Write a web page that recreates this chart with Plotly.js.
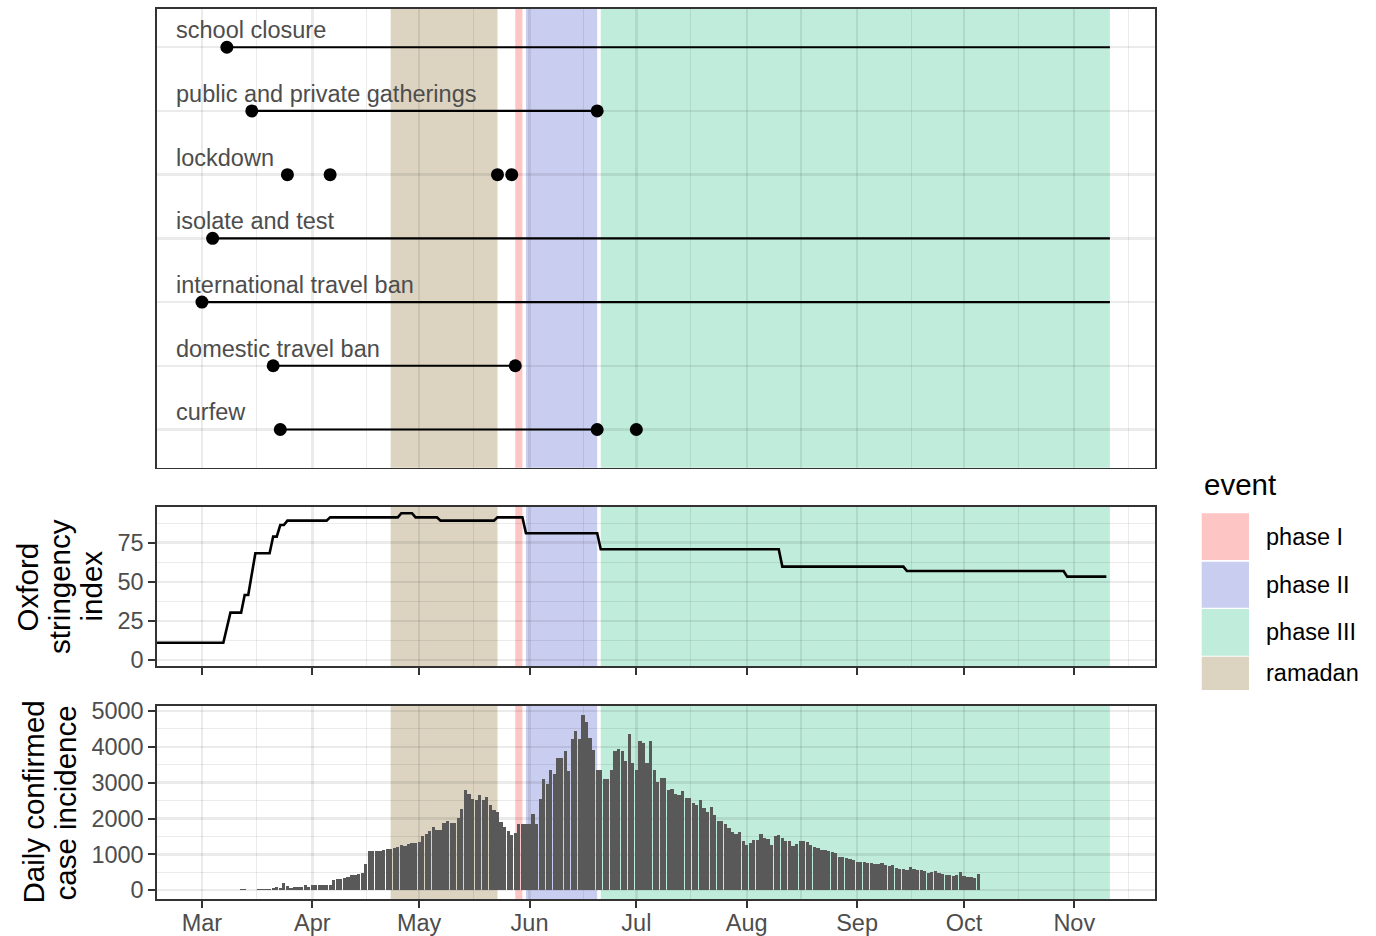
<!DOCTYPE html>
<html>
<head>
<meta charset="utf-8">
<script src="https://cdn.plot.ly/plotly-3.0.1.min.js"></script>
<style>
  html, body { margin: 0; padding: 0; background: #ffffff; }
  #chart { width: 1376px; height: 936px; }
</style>
</head>
<body>
<div id="chart"></div>
<script>
// ---- Daily confirmed cases, one array per month (first value = 1st of month) ----
const casesMar = [0, 1, 0, 1, 3, 0, 2, 4, 4, 5, 1, 24, 28, 17, 15, 15, 38, 36, 33, 45, 70, 92, 65, 194, 110, 65, 83, 92, 85, 140, 100];
const casesApr = [140, 150, 140, 150, 140, 150, 286, 323, 323, 330, 369, 434, 434, 460, 480, 738, 1107, 1080, 1098, 1107, 1125, 1140, 1150, 1190, 1200, 1264, 1236, 1282, 1328, 1328];
const casesMay = [1338, 1513, 1568, 1651, 1762, 1670, 1670, 1863, 1928, 1882, 1882, 2002, 2279, 2804, 2694, 2555, 2509, 2666, 2509, 2601, 2389, 2232, 2186, 1891, 1771, 1660, 1541, 1587, 1845, 1836, 1840];
const casesJun = [1840, 2120, 1840, 2550, 3090, 2970, 3340, 3230, 3690, 3690, 3890, 3320, 4220, 4450, 4220, 4890, 4700, 4260, 3910, 3360, 3360, 3110, 3090, 3340, 3890, 3940, 3890, 3600, 4350, 3550];
const casesJul = [3360, 4150, 4100, 3550, 4170, 3360, 3020, 3140, 3130, 2800, 2830, 2680, 2660, 2770, 2580, 2560, 2440, 2370, 2510, 2280, 2190, 2330, 2090, 1940, 1940, 1860, 1740, 1630, 1580, 1630, 1380];
const casesAug = [1260, 1330, 1390, 1400, 1560, 1450, 1420, 1260, 1500, 1540, 1470, 1380, 1375, 1220, 1280, 1360, 1375, 1340, 1260, 1200, 1170, 1125, 1110, 1080, 1060, 1030, 940, 920, 900, 870, 830];
const casesSep = [800, 800, 785, 755, 755, 740, 740, 755, 710, 680, 690, 620, 590, 590, 570, 640, 590, 570, 550, 525, 480, 500, 525, 480, 460, 435, 435, 390, 435, 500];
const casesOct = [390, 370, 360, 350, 460];
const caseMonths = ['2020-03', '2020-04', '2020-05', '2020-06', '2020-07', '2020-08', '2020-09', '2020-10'];

// ---- Oxford stringency index (vertices of the daily line) ----
const stringencyDates = ['2020-02-10', '2020-03-07', '2020-03-09', '2020-03-12', '2020-03-13', '2020-03-14', '2020-03-16',
  '2020-03-20', '2020-03-21', '2020-03-22', '2020-03-23', '2020-03-24', '2020-03-25', '2020-04-05', '2020-04-06',
  '2020-04-25', '2020-04-26', '2020-04-29', '2020-04-30', '2020-05-06', '2020-05-07', '2020-05-22', '2020-05-23',
  '2020-05-30', '2020-05-31', '2020-06-20', '2020-06-21', '2020-08-10', '2020-08-11', '2020-09-14', '2020-09-15',
  '2020-10-29', '2020-10-30', '2020-11-10'];
const stringencyValues = [11.1, 11.1, 30.3, 30.3, 41.6, 41.6, 68.2, 68.2, 78.9, 78.9, 86.3, 86.3, 89.1, 89.1, 91.2,
  91.2, 93.8, 93.8, 91.2, 91.2, 89.1, 89.1, 91.2, 91.2, 81.0, 81.0, 70.8, 70.8, 59.7, 59.7, 56.9, 56.9, 53.3, 53.3];

// ---- Shaded periods ----
const eventNames = ['phase I', 'phase II', 'phase III', 'ramadan'];
const eventStart = ['2020-05-28', '2020-05-31', '2020-06-21', '2020-04-23'];
const eventEnd = ['2020-05-30', '2020-06-20', '2020-11-11', '2020-05-23'];
const eventColors = ['#FEC5C5', '#C9CDF0', '#C0ECDB', '#DCD4C0'];

// ---- Measures (top to bottom) ----
const measures = ['school closure', 'public and private gatherings', 'lockdown', 'isolate and test',
  'international travel ban', 'domestic travel ban', 'curfew'];
const spanMeasure = ['school closure', 'public and private gatherings', 'isolate and test',
  'international travel ban', 'domestic travel ban', 'curfew'];
const spanStart = ['2020-03-08', '2020-03-15', '2020-03-04', '2020-03-01', '2020-03-21', '2020-03-23'];
const spanEnd = ['2020-11-11', '2020-06-20', '2020-11-11', '2020-11-11', '2020-05-28', '2020-06-20'];
const pointMeasure = ['school closure', 'public and private gatherings', 'public and private gatherings',
  'lockdown', 'lockdown', 'lockdown', 'lockdown', 'isolate and test', 'international travel ban',
  'domestic travel ban', 'domestic travel ban', 'curfew', 'curfew', 'curfew'];
const pointDate = ['2020-03-08', '2020-03-15', '2020-06-20', '2020-03-25', '2020-04-06', '2020-05-23', '2020-05-27',
  '2020-03-04', '2020-03-01', '2020-03-21', '2020-05-28', '2020-03-23', '2020-06-20', '2020-07-01'];
const labelDate = '2020-02-22 05:00';

// ---- build the daily case series ----
const caseMonthArrays = [casesMar, casesApr, casesMay, casesJun, casesJul, casesAug, casesSep, casesOct];
const caseX = [], caseY = [];
caseMonthArrays.forEach((arr, m) => {
  arr.forEach((v, i) => {
    const day = String(i + 1).padStart(2, '0');
    caseX.push(caseMonths[m] + '-' + day);
    caseY.push(v);
  });
});

const FONT = '"Liberation Sans", Arial, Helvetica, sans-serif';
// translucent grid so it reads light grey on white and slightly darker on the shaded periods
const GRID = 'rgba(0,0,0,0.08)';
const DARK = '#333333';
const xRange = ['2020-02-17 09:00', '2020-11-23 16:00'];

function xAxis(showLabels, showTicks, anchor) {
  return {
    type: 'date', range: xRange, anchor: anchor, domain: [0, 1],
    dtick: 'M1', tick0: '2020-03-01', tickformat: '%b',
    showgrid: true, gridcolor: GRID, gridwidth: 2.4,
    minor: { dtick: 'M1', tick0: '2020-02-16 06:00', showgrid: true, gridcolor: GRID, gridwidth: 1.2 },
    showline: true, mirror: true, linecolor: DARK, linewidth: 1.6,
    ticks: showTicks ? 'outside' : '', ticklen: 7, tickwidth: 2, tickcolor: DARK,
    ticklabelstandoff: -5,
    showticklabels: showLabels, tickfont: { family: FONT, size: 23.5, color: '#4D4D4D' },
    zeroline: false, fixedrange: true
  };
}

function yLinear(domain, range, dtick, minorDtick, anchor) {
  return {
    domain: domain, range: range, anchor: anchor, dtick: dtick, tick0: 0, tickformat: 'd',
    showgrid: true, gridcolor: GRID, gridwidth: 2.4,
    minor: { dtick: minorDtick, tick0: 0, showgrid: true, gridcolor: GRID, gridwidth: 1.2 },
    showline: true, mirror: true, linecolor: DARK, linewidth: 1.6,
    ticks: 'outside', ticklen: 7, tickwidth: 2, tickcolor: DARK,
    tickfont: { family: FONT, size: 23.5, color: '#4D4D4D' },
    zeroline: false, fixedrange: true
  };
}

// ---- traces ----
const segX = [], segY = [];
spanMeasure.forEach((m, i) => {
  segX.push(spanStart[i], spanEnd[i], null);
  segY.push(m, m, null);
});

const traces = [
  { type: 'scatter', mode: 'lines', x: segX, y: segY, xaxis: 'x', yaxis: 'y',
    line: { color: '#000000', width: 2.2 }, hoverinfo: 'skip', showlegend: false },
  { type: 'scatter', mode: 'markers', x: pointDate, y: pointMeasure, xaxis: 'x', yaxis: 'y',
    marker: { color: '#000000', size: 13 }, cliponaxis: false, hoverinfo: 'skip', showlegend: false },
  { type: 'scatter', mode: 'lines', x: stringencyDates, y: stringencyValues, xaxis: 'x2', yaxis: 'y2',
    line: { color: '#000000', width: 2.6 }, hoverinfo: 'skip', showlegend: false },
  { type: 'bar', x: caseX, y: caseY, xaxis: 'x3', yaxis: 'y3', width: 0.9 * 86400000,
    marker: { color: '#595959', line: { width: 0 } }, hoverinfo: 'skip', showlegend: false }
];

// ---- shaded periods in every panel (under the grid) ----
const shapes = [];
[['x', 'y'], ['x2', 'y2'], ['x3', 'y3']].forEach(([xr, yr]) => {
  eventNames.forEach((name, i) => {
    shapes.push({ type: 'rect', xref: xr, yref: yr + ' domain', x0: eventStart[i], x1: eventEnd[i], y0: 0, y1: 1,
      fillcolor: eventColors[i], line: { width: 0 }, layer: 'below' });
  });
});

// ---- legend (event) ----
const keyX0 = 1.0468, keyX1 = 1.0942;
const keyY = [[0.3809, 0.4334], [0.3273, 0.3790], [0.2734, 0.3258], [0.2348, 0.2722]];
const annotations = [];
eventNames.forEach((name, i) => {
  shapes.push({ type: 'rect', xref: 'paper', yref: 'paper', x0: keyX0, x1: keyX1,
    y0: keyY[i][0], y1: keyY[i][1], fillcolor: eventColors[i], line: { width: 0 } });
  annotations.push({ xref: 'paper', yref: 'paper', x: 1.1092, y: (keyY[i][0] + keyY[i][1]) / 2,
    xanchor: 'left', yanchor: 'middle', showarrow: false, text: name,
    font: { family: FONT, size: 23.5, color: '#000000' } });
});
annotations.push({ xref: 'paper', yref: 'paper', x: 1.0471, y: 0.4652, xanchor: 'left', yanchor: 'middle',
  showarrow: false, text: 'event', font: { family: FONT, size: 29.5, color: '#000000' } });

// ---- measure labels ----
measures.forEach(m => {
  annotations.push({ xref: 'x', yref: 'y', x: labelDate, y: m, xanchor: 'left', yanchor: 'bottom',
    yshift: 2, showarrow: false, text: m, font: { family: FONT, size: 23.5, color: '#4D4D4D' } });
});

// ---- y-axis titles ----
const titleFont = { family: FONT, size: 29.5, color: '#000000' };
[['Oxford', -0.1303], ['stringency', -0.0977], ['index', -0.0661]].forEach(([t, x]) => {
  annotations.push({ xref: 'paper', yref: 'paper', x: x, y: 0.3512, xanchor: 'center', yanchor: 'middle',
    textangle: -90, showarrow: false, text: t, font: titleFont });
});
[['Daily confirmed', -0.1242], ['case incidence', -0.0912]].forEach(([t, x]) => {
  annotations.push({ xref: 'paper', yref: 'paper', x: x, y: 0.1084, xanchor: 'center', yanchor: 'middle',
    textangle: -90, showarrow: false, text: t, font: titleFont });
});

const layout = {
  width: 1376, height: 936, autosize: false,
  margin: { l: 157, r: 221, t: 9, b: 37, pad: 0 },
  paper_bgcolor: '#ffffff', plot_bgcolor: '#ffffff',
  font: { family: FONT, color: '#000000' },
  showlegend: false, bargap: 0,
  xaxis: xAxis(false, false, 'y'),
  xaxis2: xAxis(false, true, 'y2'),
  xaxis3: xAxis(true, true, 'y3'),
  yaxis: {
    domain: [0.4846, 1], anchor: 'x', type: 'category', categoryorder: 'array',
    categoryarray: measures.slice().reverse(), range: [-0.6, 6.6],
    showgrid: true, gridcolor: GRID, gridwidth: 2.4, showticklabels: false, ticks: '',
    showline: true, mirror: true, linecolor: DARK, linewidth: 1.6, zeroline: false, fixedrange: true
  },
  yaxis2: yLinear([0.2618, 0.4408], [-3.8, 98], 25, 12.5, 'x2'),
  yaxis3: yLinear([0, 0.2169], [-245, 5140], 1000, 500, 'x3'),
  shapes: shapes,
  annotations: annotations
};

Plotly.newPlot('chart', traces, layout, { staticPlot: true, displayModeBar: false });
</script>
</body>
</html>
